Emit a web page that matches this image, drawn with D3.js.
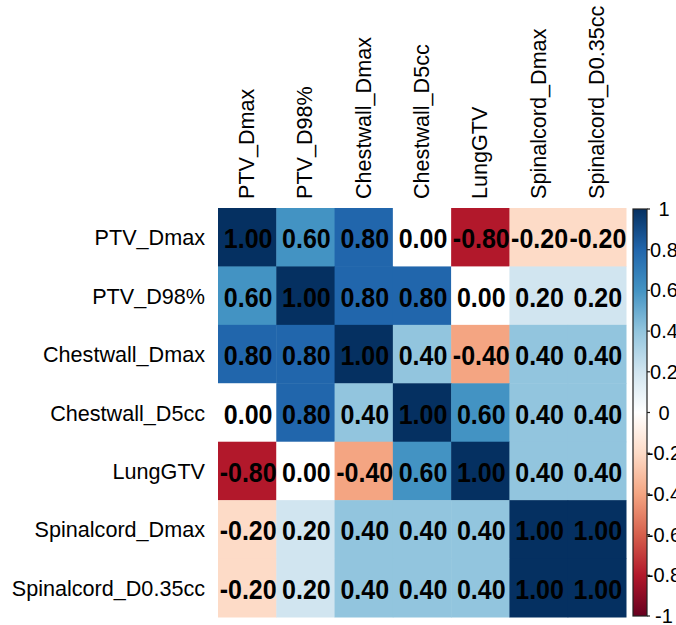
<!DOCTYPE html>
<html>
<head>
<meta charset="utf-8">
<script src="https://cdn.jsdelivr.net/npm/d3@7"></script>
<style>
  body { margin: 0; background: #fff; }
  svg { display: block; font-family: "Liberation Sans", Arial, sans-serif; }
</style>
</head>
<body>
<div id="chart"></div>
<script>
// variables (rows and columns are the same)
const vars = ['PTV_Dmax', 'PTV_D98%', 'Chestwall_Dmax', 'Chestwall_D5cc', 'LungGTV', 'Spinalcord_Dmax', 'Spinalcord_D0.35cc'];

// correlation matrix, one array per row
const PTV_Dmax = [1, 0.6, 0.8, 0, -0.8, -0.2, -0.2];
const PTV_D98 = [0.6, 1, 0.8, 0.8, 0, 0.2, 0.2];
const Chestwall_Dmax = [0.8, 0.8, 1, 0.4, -0.4, 0.4, 0.4];
const Chestwall_D5cc = [0, 0.8, 0.4, 1, 0.6, 0.4, 0.4];
const LungGTV = [-0.8, 0, -0.4, 0.6, 1, 0.4, 0.4];
const Spinalcord_Dmax = [-0.2, 0.2, 0.4, 0.4, 0.4, 1, 1];
const Spinalcord_D035cc = [-0.2, 0.2, 0.4, 0.4, 0.4, 1, 1];

const rows = [PTV_Dmax, PTV_D98, Chestwall_Dmax, Chestwall_D5cc, LungGTV, Spinalcord_Dmax, Spinalcord_D035cc];

// colour legend ticks
const legendTicks = [1, 0.8, 0.6, 0.4, 0.2, 0, -0.2, -0.4, -0.6, -0.8, -1];

// corrplot RdBu palette
const palette = ['#67001F', '#B2182B', '#D6604D', '#F4A582', '#FDDBC7', '#FFFFFF', '#D1E5F0', '#92C5DE', '#4393C3', '#2166AC', '#053061'];

const width = 676;
const height = 625;
const grid = { left: 218, top: 208, right: 626, bottom: 617 };

const svg = d3.select('#chart').append('svg')
    .attr('width', width)
    .attr('height', height);

const x = d3.scaleBand()
    .domain(vars)
    .range([grid.left, grid.right]);

const y = d3.scaleBand()
    .domain(vars)
    .range([grid.top, grid.bottom]);

const color = d3.scaleLinear()
    .domain(d3.range(palette.length).map(i => -1 + 2 * i / (palette.length - 1)))
    .range(palette)
    .interpolate(d3.interpolateRgb);

// flatten to cells
const cells = [];
rows.forEach((r, i) => r.forEach((v, j) => cells.push({ row: vars[i], col: vars[j], value: v })));

// cell rectangles
svg.selectAll('.cell')
    .data(cells)
    .enter().append('rect')
    .attr('class', 'cell')
    .attr('x', d => x(d.col))
    .attr('y', d => y(d.row))
    .attr('width', x.bandwidth() + 0.5)
    .attr('height', y.bandwidth() + 0.5)
    .attr('fill', d => color(d.value));

// values in the cells (a little taller than plain bold, like the R output)
svg.selectAll('.cell-text')
    .data(cells)
    .enter().append('text')
    .attr('class', 'cell-text')
    .attr('transform', d => `translate(${x(d.col) + x.bandwidth() / 2 + 1},${y(d.row) + y.bandwidth() / 2 + 11}) scale(1,1.07)`)
    .attr('text-anchor', 'middle')
    .style('font-size', '25px')
    .style('font-weight', 'bold')
    .style('fill', '#000')
    .text(d => d.value.toFixed(2));

// row labels
svg.selectAll('.row-label')
    .data(vars)
    .enter().append('text')
    .attr('class', 'row-label')
    .attr('x', grid.left - 13)
    .attr('y', d => y(d) + y.bandwidth() / 2 + 8)
    .attr('text-anchor', 'end')
    .style('font-size', '21.6px')
    .style('fill', '#000')
    .text(d => d);

// column labels, rotated
svg.selectAll('.col-label')
    .data(vars)
    .enter().append('text')
    .attr('class', 'col-label')
    .attr('transform', d => `translate(${x(d) + x.bandwidth() / 2 + 7},${grid.top - 9}) rotate(-90)`)
    .attr('text-anchor', 'start')
    .style('font-size', '21.6px')
    .style('fill', '#000')
    .text(d => d);

// colour legend
const bar = { x: 633, w: 14, top: 209, bottom: 616 };

const defs = svg.append('defs');
const grad = defs.append('linearGradient')
    .attr('id', 'legend-grad')
    .attr('x1', 0).attr('y1', 1)
    .attr('x2', 0).attr('y2', 0);
grad.selectAll('stop')
    .data(palette)
    .enter().append('stop')
    .attr('offset', (d, i) => i / (palette.length - 1))
    .attr('stop-color', d => d);

const ly = d3.scaleLinear()
    .domain([-1, 1])
    .range([bar.bottom, bar.top]);

svg.append('rect')
    .attr('x', bar.x)
    .attr('y', bar.top)
    .attr('width', bar.w)
    .attr('height', bar.bottom - bar.top)
    .attr('fill', 'url(#legend-grad)')
    .attr('stroke', '#222')
    .attr('stroke-width', 1.2);

svg.selectAll('.legend-tick')
    .data(legendTicks)
    .enter().append('line')
    .attr('class', 'legend-tick')
    .attr('x1', bar.x + bar.w)
    .attr('x2', bar.x + bar.w + 3)
    .attr('y1', d => ly(d))
    .attr('y2', d => ly(d))
    .attr('stroke', '#222')
    .attr('stroke-width', 1.2);

// labels run off the right edge, as in the original
svg.selectAll('.legend-label')
    .data(legendTicks)
    .enter().append('text')
    .attr('class', 'legend-label')
    .attr('x', 664)
    .attr('y', d => ly(d) + 7)
    .attr('text-anchor', 'middle')
    .style('font-size', '20px')
    .style('fill', '#000')
    .text(d => String(d));
</script>
</body>
</html>
